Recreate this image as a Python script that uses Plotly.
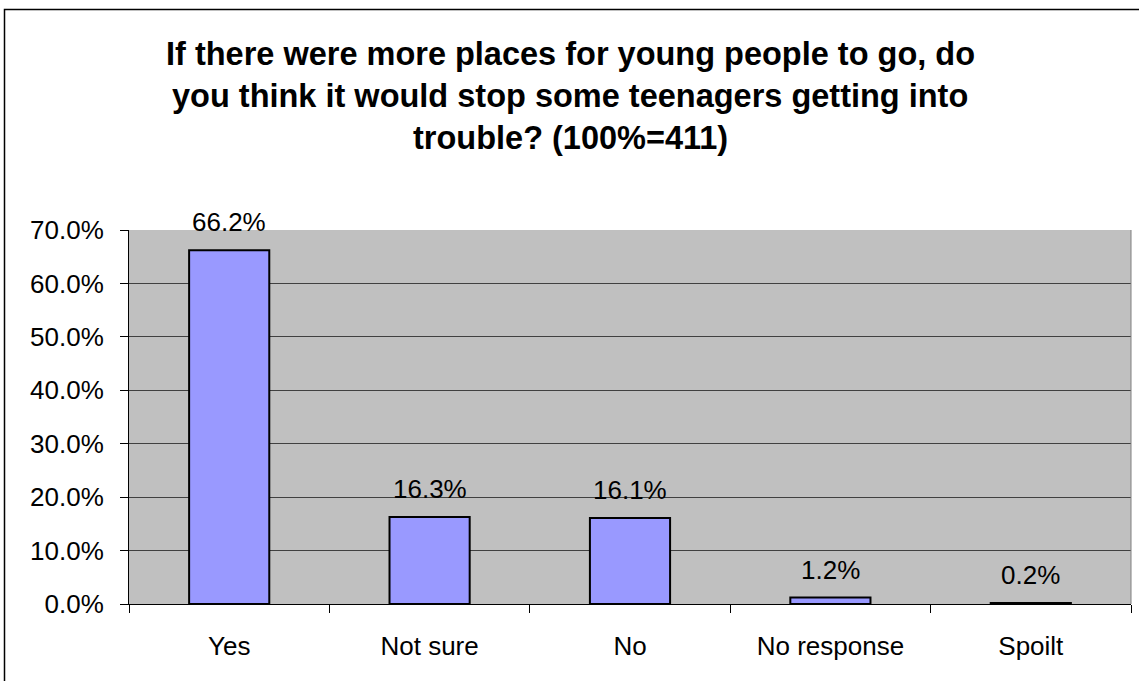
import plotly.graph_objects as go

categories = ["Yes", "Not sure", "No", "No response", "Spoilt"]
values = [66.2, 16.3, 16.1, 1.2, 0.2]
labels = ["66.2%", "16.3%", "16.1%", "1.2%", "0.2%"]
title_lines = [
    "If there were more places for young people to go, do",
    "you think it would stop some teenagers getting into",
    "trouble? (100%=411)",
]
y_ticks = [0, 10, 20, 30, 40, 50, 60, 70]
y_ticktext = ["0.0%", "10.0%", "20.0%", "30.0%", "40.0%", "50.0%", "60.0%", "70.0%"]

W, H = 1139, 681
L, R, T, B = 129, 8, 230, 77
PW, PH = W - L - R, H - T - B
FONT = "Liberation Sans, Arial, sans-serif"

fig = go.Figure(go.Bar(
    x=categories, y=values,
    marker=dict(color="#9999FF", line=dict(color="black", width=2)),
    cliponaxis=False, width=0.4, hoverinfo="x+y",
))

for c, v, t in zip(categories, values, labels):
    fig.add_annotation(x=c, y=v, text=t, showarrow=False, xanchor="center",
                       yanchor="bottom", yshift=11,
                       font=dict(family=FONT, size=26, color="black"))

fig.update_layout(
    width=W, height=H, margin=dict(l=L, r=R, t=T, b=B),
    paper_bgcolor="white", plot_bgcolor="#C0C0C0",
    showlegend=False,
    font=dict(family=FONT, size=26, color="black"),
)
fig.update_xaxes(
    type="category", tickson="boundaries", ticks="outside", ticklen=8,
    tickcolor="black", showline=True, linecolor="black", linewidth=1,
    mirror=False, showgrid=False, ticklabelstandoff=19,
    tickfont=dict(family=FONT, size=26),
)
fig.update_yaxes(
    range=[0, 70], tickvals=y_ticks, ticktext=y_ticktext, ticks="outside",
    ticklen=8, tickcolor="black", showline=True, linecolor="black",
    showgrid=True, gridcolor="#404040", gridwidth=1, zeroline=False,
    ticklabelstandoff=11, tickfont=dict(family=FONT, size=26),
)
# right plot edge line
fig.add_shape(type="line", xref="paper", yref="paper", x0=1, x1=1, y0=0, y1=1,
              line=dict(color="#808080", width=1))
# outer chart border (right and bottom edges lie outside the picture)
fig.add_shape(type="rect", xref="paper", yref="paper",
              x0=-(L - 4.5) / PW, x1=1 + (R + 10) / PW,
              y0=-(B + 10) / PH, y1=1 + (T - 9.5) / PH,
              line=dict(color="black", width=1.5), fillcolor="rgba(0,0,0,0)", layer="below")

title_y = [54, 96, 138]
for line, ypx in zip(title_lines, title_y):
    fig.add_annotation(
        text="<b>" + line + "</b>", xref="paper", yref="paper",
        x=(570 - L) / PW, y=1 + (T - ypx) / PH,
        xanchor="center", yanchor="middle", showarrow=False,
        font=dict(family=FONT, size=32.5, color="black"),
    )

fig.write_html("out.html", config={"displayModeBar": False},
               post_script="document.body.style.margin='0';document.body.style.overflow='hidden';")
